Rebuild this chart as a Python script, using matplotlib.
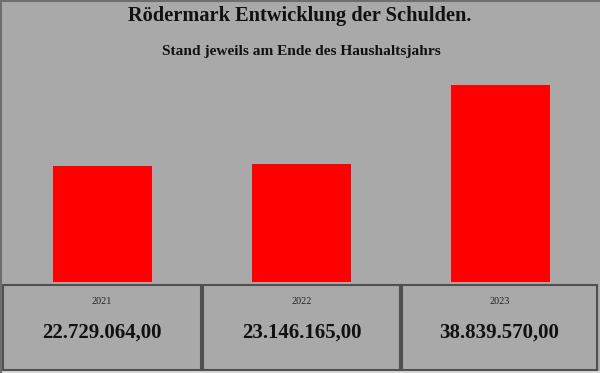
import matplotlib
matplotlib.use("Agg")
import matplotlib.pyplot as plt
from matplotlib.patches import Rectangle
from matplotlib.lines import Line2D

# ── data ──────────────────────────────────────────────────────────────────────
YEARS  = ["2021", "2022", "2023"]
DEBT   = [22729064.00, 23146165.00, 38839570.00]
TITLE  = "Rödermark Entwicklung der Schulden."
SUBTITLE = "Stand jeweils am Ende des Haushaltsjahrs"

BG     = "#a9a9a9"
RED    = "#ff0000"
EDGE   = "#505050"
SERIF  = ["Liberation Serif", "DejaVu Serif"]

W, H = 600, 373


def de_format(v: float) -> str:
    # 22729064.0 -> "22.729.064,00"
    s = f"{v:,.2f}"
    return s.replace(",", "X").replace(".", ",").replace("X", ".")


fig = plt.figure(figsize=(W / 100, H / 100), dpi=100, facecolor=BG)

# frame: top and left edge only, light strip at the very bottom
fig.lines.append(Line2D([0, 1], [1 - 0.8 / H, 1 - 0.8 / H], transform=fig.transFigure,
                        color="#6e6e6e", linewidth=1.5))
fig.lines.append(Line2D([0.8 / W, 0.8 / W], [0, 1], transform=fig.transFigure,
                        color="#6e6e6e", linewidth=1.5))
fig.patches.append(Rectangle((0, 0), 1, 2.5 / H, transform=fig.transFigure,
                             facecolor="#d8d8d8", edgecolor="none"))

fig.text(0.5, 1 - 16 / H, TITLE, ha="center", va="center",
         fontsize=14.7, fontweight="bold", family=SERIF, color="#111111")
fig.text(0.503, 1 - 52 / H, SUBTITLE, ha="center", va="center",
         fontsize=11.1, fontweight="bold", family=SERIF, color="#111111")

# bar area: baseline at y=282 px, top at y=60 px
ax = fig.add_axes([3 / W, 1 - 282 / H, 597 / W, 222 / H])
ax.set_facecolor("none")
x = list(range(len(YEARS)))
ax.bar(x, DEBT, width=0.5, color=RED, edgecolor="none")
ax.set_xlim(-0.5, len(YEARS) - 0.5)
ax.set_ylim(0, 43.66e6)
ax.axis("off")

# value boxes below the bars
box_left = [3, 203, 402]
box_right = [201, 400, 597]
for i, (yr, val) in enumerate(zip(YEARS, DEBT)):
    l, r = box_left[i], box_right[i]
    fig.patches.append(Rectangle((l / W, 1 - 369.5 / H), (r - l) / W, 84.5 / H,
                                 transform=fig.transFigure, fill=False,
                                 edgecolor=EDGE, linewidth=1.5))
    cx = (l + r) / 2 / W
    fig.text(cx, 1 - 301 / H, yr, ha="center", va="center",
             fontsize=7.3, family=SERIF, color="#222222")
    fig.text(cx, 1 - 333 / H, de_format(val), ha="center", va="center",
             fontsize=15, fontweight="bold", family=SERIF, color="#111111")

fig.savefig("out.png", dpi=100, facecolor=BG)
